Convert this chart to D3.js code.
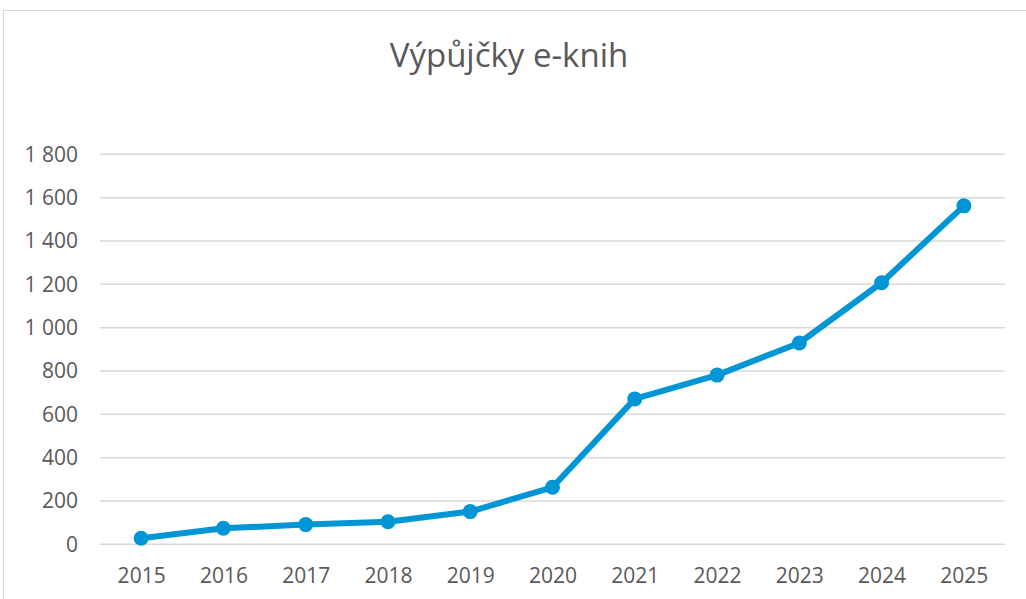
<html>
<head>
<meta charset="utf-8">
<style>
  body { margin: 0; background: #fff; }
  text { font-family: "Open Sans", sans-serif; fill: #595959; }
</style>
</head>
<body>
<svg id="chart" width="1026" height="599"></svg>
<script src="https://d3js.org/d3.v7.min.js"></script>
<script>
// data
let years = ["2015", "2016", "2017", "2018", "2019", "2020", "2021", "2022", "2023", "2024", "2025"]
let loans = [28, 74, 91, 104, 151, 263, 671, 781, 929, 1207, 1562]
let yTicks = [0, 200, 400, 600, 800, 1000, 1200, 1400, 1600, 1800]
let title = "Výpůjčky e-knih"

let svg = d3.select("#chart")

// chart frame (runs off the right and bottom edge)
svg.append("rect")
    .attr("x", 3.5).attr("y", 10.5)
    .attr("width", 1040).attr("height", 600)
    .attr("fill", "none").attr("stroke", "#d9d9d9").attr("stroke-width", 1)

let plotLeft = 100, plotRight = 1005, plotTop = 154.3, plotBottom = 544.3

let x = d3.scalePoint()
    .domain(years)
    .range([plotLeft, plotRight])
    .padding(0.5)

let y = d3.scaleLinear()
    .domain([0, 1800])
    .range([plotBottom, plotTop])

// gridlines
svg.append("g")
    .selectAll("line").data(yTicks).enter()
    .append("line")
    .attr("x1", plotLeft).attr("x2", plotRight)
    .attr("y1", d => y(d)).attr("y2", d => y(d))
    .attr("stroke", "#d9d9d9").attr("stroke-width", 1.5)

// y axis labels
let fmt = d => d3.format(",")(d).replace(",", " ")
let yAxis = d3.axisLeft(y).tickValues(yTicks).tickFormat(fmt).tickSize(0).tickPadding(22)
let gy = svg.append("g").attr("transform", `translate(${plotLeft},0)`).call(yAxis)
gy.select(".domain").remove()
gy.selectAll("text").attr("font-size", 21).attr("fill", "#595959").attr("font-family", "Open Sans")

// x axis labels
let xAxis = d3.axisBottom(x).tickSize(0).tickPadding(24)
let gx = svg.append("g").attr("transform", `translate(0,${plotBottom})`).call(xAxis)
gx.select(".domain").remove()
gx.selectAll("text").attr("font-size", 21).attr("fill", "#595959").attr("font-family", "Open Sans")

// line
let line = d3.line()
    .x((d, i) => x(years[i]))
    .y(d => y(d))

svg.append("path")
    .datum(loans)
    .attr("d", line)
    .attr("fill", "none")
    .attr("stroke", "#0096d6")
    .attr("stroke-width", 6)
    .attr("stroke-linejoin", "round")

svg.append("g")
    .selectAll("circle").data(loans).enter()
    .append("circle")
    .attr("cx", (d, i) => x(years[i]))
    .attr("cy", d => y(d))
    .attr("r", 7.5)
    .attr("fill", "#0096d6")

// title
svg.append("text")
    .attr("x", 509).attr("y", 67)
    .attr("text-anchor", "middle")
    .attr("font-size", 33)
    .text(title)
</script>
</body>
</html>
